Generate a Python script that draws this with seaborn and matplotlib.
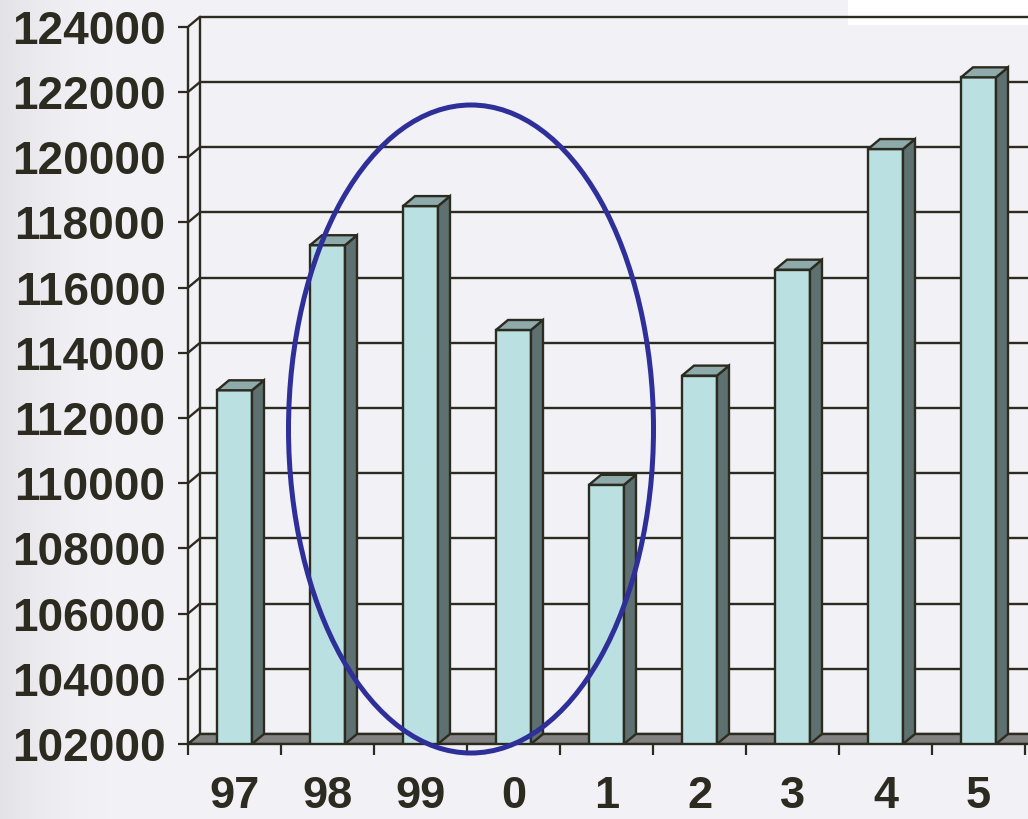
import matplotlib
matplotlib.use('Agg')
import matplotlib.pyplot as plt
from matplotlib.patches import Polygon, Ellipse, Rectangle
import numpy as np
import pandas as pd
import seaborn as sns

# data
years = ['97', '98', '99', '0', '1', '2', '3', '4', '5']
values = [112850, 117300, 118500, 114700, 109950, 113300, 116550, 120250, 122450]
yticks = list(range(102000, 124001, 2000))

front_col = '#BAE0E2'
side_col = '#5E7070'
top_col = '#8EAAAA'
floor_col = '#828282'
ink = '#2B2B20'

sns.set_theme(style='white')
plt.rcParams['font.family'] = ['Liberation Sans', 'DejaVu Sans']

W, H = 1028, 819
fig = plt.figure(figsize=(W / 100, H / 100), dpi=100)

# background with a softly darker left edge
bg = fig.add_axes([0, 0, 1, 1], zorder=-10)
grad = np.ones((10, 400, 3))
xs = np.linspace(0, 1, 400)
shade = 0.948 - 0.06 * np.clip(1 - xs / 0.12, 0, 1) ** 2
grad[:, :, 0] = shade[None, :]
grad[:, :, 1] = shade[None, :]
grad[:, :, 2] = shade[None, :] + 0.018
bg.imshow(np.clip(grad, 0, 1), aspect='auto', extent=[0, 1, 0, 1])
bg.axis('off')
fig.patches.append(Rectangle((848 / W, 1 - 25 / H), 180 / W, 25 / H,
                             transform=fig.transFigure, facecolor='white',
                             edgecolor='none', zorder=-5))

# front axes: x from px 188 to 1028, y from px 744 (bottom) to 0
px_cat = 93.0
px_val = 65.2 / 2000
ax = fig.add_axes([188 / W, (H - 744) / H, 840 / W, 744 / H])
ax.patch.set_alpha(0)
xlo, xhi = -0.5, -0.5 + 840 / px_cat
ylo, yhi = 102000, 102000 + 744 / px_val
ddx = 12 / px_cat
ddy = 10 / px_val

df = pd.DataFrame({'year': years, 'value': values})
sns.barplot(data=df, x='year', y='value', order=years, color=front_col,
            saturation=1, width=0.376, edgecolor=ink, linewidth=1.7,
            zorder=4, ax=ax)

ax.set_xlim(xlo, xhi)
ax.set_ylim(ylo, yhi)

# back wall gridlines and connectors
for v in yticks:
    ax.plot([xlo + ddx, xhi], [v + ddy, v + ddy], color=ink, lw=1.7, zorder=1)
    ax.plot([xlo, xlo + ddx], [v, v + ddy], color=ink, lw=1.7, zorder=1)
ax.plot([xlo + ddx, xlo + ddx], [ylo + ddy, yticks[-1] + ddy], color=ink,
        lw=1.7, zorder=1)

# floor
ax.add_patch(Polygon([(xlo, ylo), (xhi + 1, ylo), (xhi + 1 + ddx, ylo + ddy),
                      (xlo + ddx, ylo + ddy)], closed=True, facecolor=floor_col,
                     edgecolor=ink, lw=1.7, zorder=2))

# side and top faces of the bars
for p in ax.patches[:]:
    if not isinstance(p, matplotlib.patches.Rectangle):
        continue
    x0, w, h = p.get_x(), p.get_width(), p.get_height()
    if h < ylo:
        continue
    r = x0 + w
    ax.add_patch(Polygon([(r, ylo), (r + ddx, ylo + ddy), (r + ddx, h + ddy),
                          (r, h)], closed=True, facecolor=side_col,
                         edgecolor=ink, lw=1.7, zorder=4))
    ax.add_patch(Polygon([(x0, h), (r, h), (r + ddx, h + ddy),
                          (x0 + ddx, h + ddy)], closed=True, facecolor=top_col,
                         edgecolor=ink, lw=1.7, zorder=4))

# ellipse highlight
ell = Ellipse((-0.5 + (471 - 188) / px_cat, ylo + (744 - 429) / px_val),
              365 / px_cat, 648 / px_val, fill=False, edgecolor='#2F2F9A',
              lw=3.6, zorder=6, clip_on=False)
ax.add_patch(ell)

# axes styling
for s in ['top', 'right']:
    ax.spines[s].set_visible(False)
ax.spines['left'].set_bounds(ylo, yticks[-1])
ax.spines['left'].set_color(ink)
ax.spines['left'].set_linewidth(1.7)
ax.spines['left'].set_zorder(3)
ax.spines['bottom'].set_color(ink)
ax.spines['bottom'].set_linewidth(1.7)
ax.spines['bottom'].set_zorder(5)

ax.set_yticks(yticks)
ax.set_yticklabels([str(v) for v in yticks])
ax.tick_params(axis='y', length=7.2, width=1.6, color=ink, pad=9,
               labelsize=33, labelcolor=ink, left=True)
ax.set_xticks(range(len(years)))
ax.set_xticklabels(years)
ax.set_xticks(np.arange(-0.5, len(years), 1), minor=True)
ax.tick_params(axis='x', which='major', length=0, pad=23, labelsize=32.5,
               labelcolor=ink)
ax.tick_params(axis='x', which='minor', length=8, width=1.6, color=ink,
               bottom=True)
for t in ax.get_xticklabels() + ax.get_yticklabels():
    t.set_fontweight('bold')
ax.set_xlabel('')
ax.set_ylabel('')

fig.savefig('out.png', dpi=100)
